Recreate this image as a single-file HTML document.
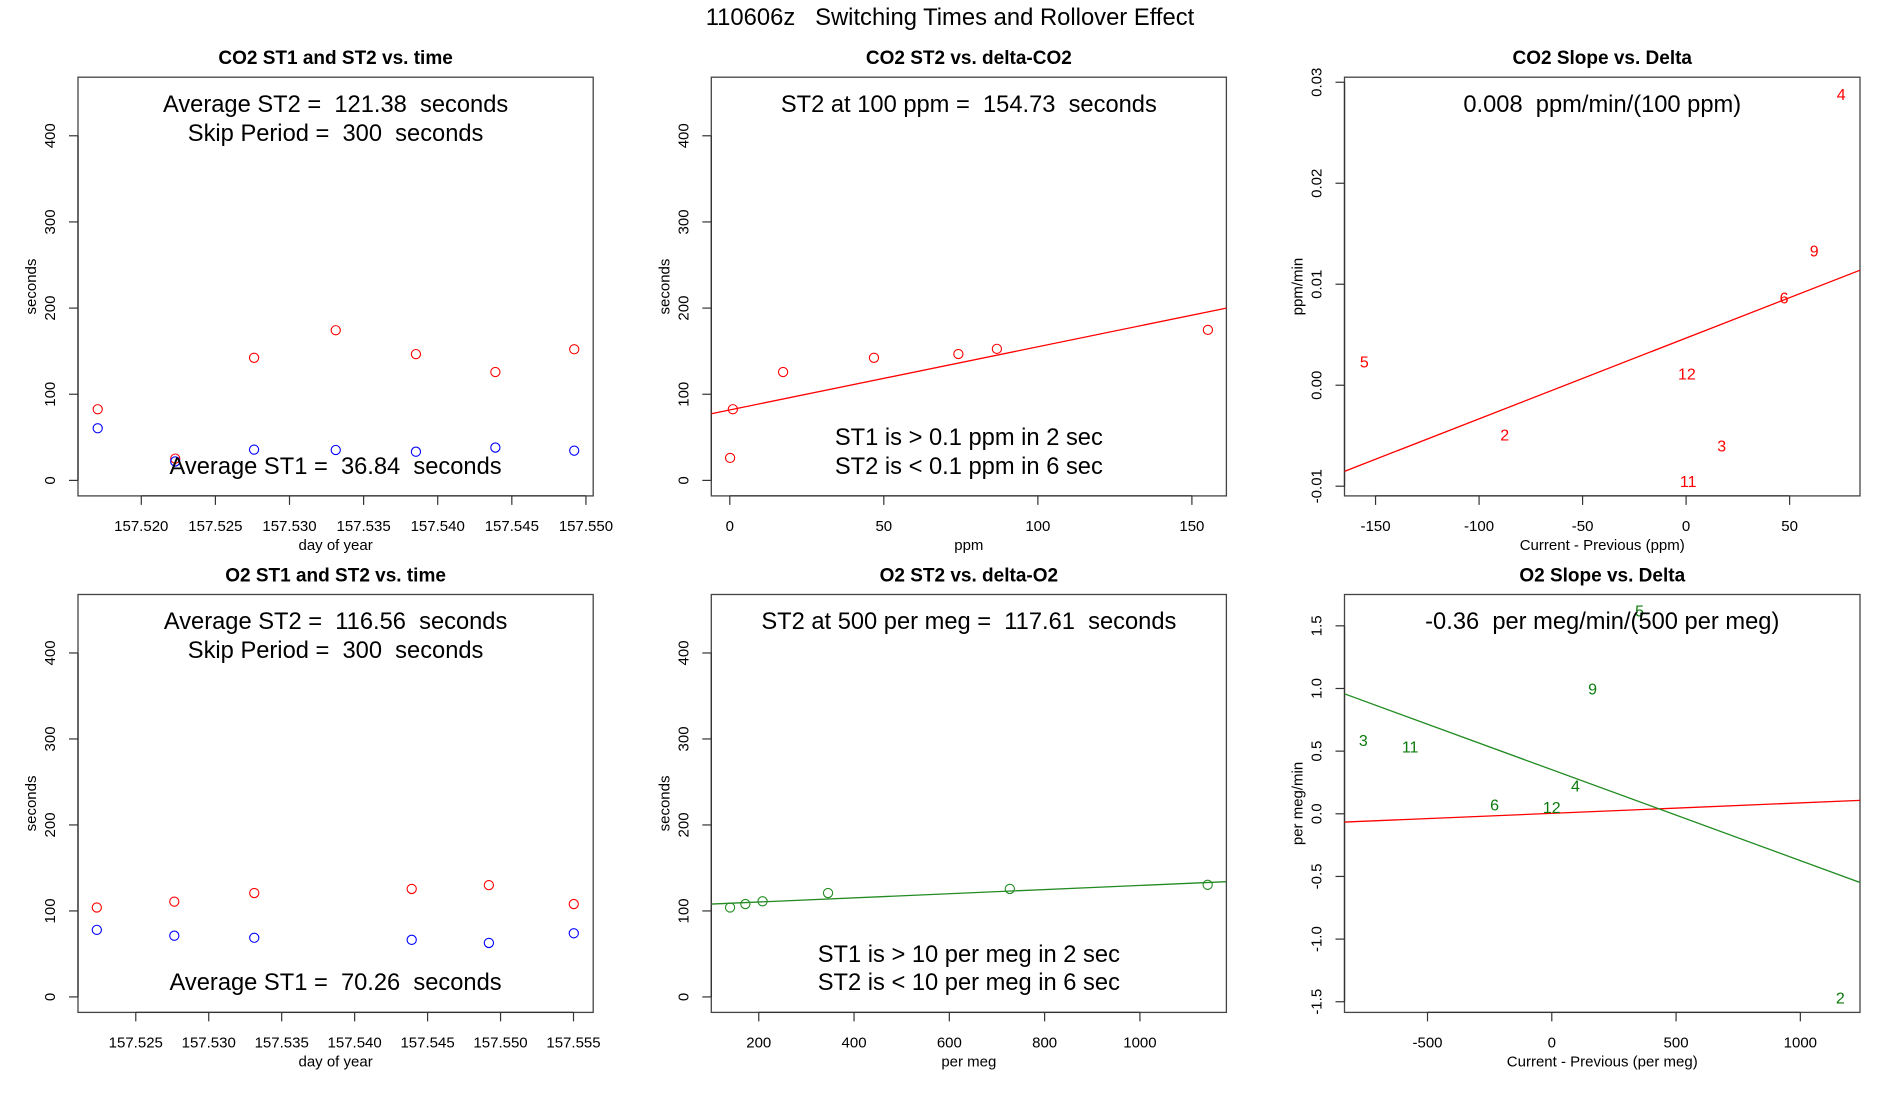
<!DOCTYPE html>
<html><head><meta charset="utf-8"><title>110606z Switching Times and Rollover Effect</title>
<style>
html,body{margin:0;padding:0;background:#fff;}
svg{display:block;font-family:"Liberation Sans",Arial,sans-serif;}
</style></head>
<body>
<svg id="chart" width="1900" height="1100" viewBox="0 0 1900 1100" xmlns="http://www.w3.org/2000/svg">
<rect width="1900" height="1100" fill="#fff"/>
<text x="950" y="25" text-anchor="middle" font-size="23.8" xml:space="preserve" style="white-space:pre">110606z   Switching Times and Rollover Effect</text>
</svg>
<script>
// ---- Panel 1: CO2 ST1 and ST2 vs time ----
const co2Time = [157.51706,157.52229,157.52761,157.53312,157.53853,157.54389,157.54921];
const co2ST2 = [82.6,25.3,142.3,174.3,146.6,125.8,152.2];
const co2ST1 = [60.5,22,35.7,35.3,33.3,38.1,34.5];
const co2TimeTicks = [157.520,157.525,157.530,157.535,157.540,157.545,157.550];
const co2TimeTickLabels = ["157.520","157.525","157.530","157.535","157.540","157.545","157.550"];
const secTicks = [0,100,200,300,400];
const secTickLabels = ["0","100","200","300","400"];
// ---- Panel 2: CO2 ST2 vs delta ----
const co2Delta = [1.0,0.1,17.3,46.8,74.2,86.7,155.2];
const co2DeltaST2 = [82.6,26.1,125.8,142.3,146.7,152.7,174.7];
const co2FitIntercept = 81.8;
const co2FitSlope = 0.733;
const ppmTicks = [0,50,100,150];
const ppmTickLabels = ["0","50","100","150"];
// ---- Panel 3: CO2 slope vs delta ----
const co2SlopeLabels = ["4","9","6","5","12","2","3","11"];
const co2SlopeX = [74.9,61.9,47.3,-155.4,0.4,-87.6,17.2,1.0];
const co2SlopeY = [0.0288,0.01328,0.00863,0.00232,0.00113,-0.00491,-0.00604,-0.00952];
const co2SlopeFitIntercept = 0.00467;
const co2SlopeFitSlope = 0.00008;
const co2SlopeXTicks = [-150,-100,-50,0,50];
const co2SlopeXTickLabels = ["-150","-100","-50","0","50"];
const co2SlopeYTicks = [-0.01,0,0.01,0.02,0.03];
const co2SlopeYTickLabels = ["-0.01","0.00","0.01","0.02","0.03"];
// ---- Panel 4: O2 ST1 and ST2 vs time ----
const o2Time = [157.52233,157.52764,157.53312,157.54391,157.54920,157.55502];
const o2ST2 = [104,110.8,120.8,125.6,130,108];
const o2ST1 = [78,71.2,68.8,66.4,62.8,74];
const o2TimeTicks = [157.525,157.530,157.535,157.540,157.545,157.550,157.555];
const o2TimeTickLabels = ["157.525","157.530","157.535","157.540","157.545","157.550","157.555"];
// ---- Panel 5: O2 ST2 vs delta ----
const o2Delta = [139.8,171.9,208,345.4,726.9,1142.2];
const o2DeltaST2 = [104,108,111.2,120.8,125.6,130.4];
const o2FitIntercept = 105.59;
const o2FitSlope = 0.02405;
const permegTicks = [200,400,600,800,1000];
const permegTickLabels = ["200","400","600","800","1000"];
// ---- Panel 6: O2 slope vs delta ----
const o2SlopeLabels = ["5","9","3","11","4","6","12","2"];
const o2SlopeX = [353,164,-758,-570,95,-230,0,1161];
const o2SlopeY = [1.618,0.994,0.586,0.531,0.220,0.072,0.052,-1.470];
const o2SlopeFitIntercept = 0.352;
const o2SlopeFitSlope = -0.000726;
const o2RefFitIntercept = 0.0036;
const o2RefFitSlope = 0.0000834;
const o2SlopeXTicks = [-500,0,500,1000];
const o2SlopeXTickLabels = ["-500","0","500","1000"];
const o2SlopeYTicks = [-1.5,-1.0,-0.5,0,0.5,1.0,1.5];
const o2SlopeYTickLabels = ["-1.5","-1.0","-0.5","0.0","0.5","1.0","1.5"];

const NS = "http://www.w3.org/2000/svg";
const svg = document.getElementById("chart");
function mk(tag, attrs, parent, txt){
  const e = document.createElementNS(NS, tag);
  for (const k in attrs) e.setAttribute(k, attrs[k]);
  if (txt !== undefined) e.textContent = txt;
  (parent || svg).appendChild(e);
  return e;
}
function makePanel(cfg){
  const g = mk("g", {});
  
  
  const sx = v => cfg.x0 + (v - cfg.xlim[0]) / (cfg.xlim[1] - cfg.xlim[0]) * (cfg.x1 - cfg.x0);
  const sy = v => cfg.y1 - (v - cfg.ylim[0]) / (cfg.ylim[1] - cfg.ylim[0]) * (cfg.y1 - cfg.y0);
  const t = mk("text", {x:(cfg.x0+cfg.x1)/2, y:cfg.y0-13, "text-anchor":"middle", "font-size":"19", "font-weight":"bold"}, g, cfg.title);
  
  
  const box = mk("rect", {x:cfg.x0, y:cfg.y0, width:cfg.x1-cfg.x0, height:cfg.y1-cfg.y0, fill:"none", stroke:"#444", "stroke-width":"1.3"}, g);
  
  
  const xa = mk("g", {}, g);
  
  
  const xt = cfg.xticks;
  mk("line", {x1:sx(xt[0]), x2:sx(xt[xt.length-1]), y1:cfg.y1, y2:cfg.y1, stroke:"#333", "stroke-width":"1.3"}, xa);
  xt.forEach((v,i) => {
    mk("line", {x1:sx(v), x2:sx(v), y1:cfg.y1, y2:cfg.y1+9, stroke:"#333", "stroke-width":"1.2"}, xa);
    const l = mk("text", {x:sx(v), y:cfg.y1+35, "text-anchor":"middle", "font-size":"15"}, xa, cfg.xlabels[i]);
    
    
  });
  const xl = mk("text", {x:(cfg.x0+cfg.x1)/2, y:cfg.y1+54, "text-anchor":"middle", "font-size":"15"}, g, cfg.xtitle);
  
  
  const ya = mk("g", {}, g);
  
  
  const yt = cfg.yticks;
  mk("line", {x1:cfg.x0, x2:cfg.x0, y1:sy(yt[0]), y2:sy(yt[yt.length-1]), stroke:"#333", "stroke-width":"1.3"}, ya);
  yt.forEach((v,i) => {
    mk("line", {x1:cfg.x0-9, x2:cfg.x0, y1:sy(v), y2:sy(v), stroke:"#333", "stroke-width":"1.2"}, ya);
    const lx = cfg.x0 - 23;
    const l = mk("text", {x:lx, y:sy(v), "text-anchor":"middle", "font-size":"15", transform:`rotate(-90 ${lx} ${sy(v)})`}, ya, cfg.ylabels[i]);
    
    
  });
  const yx = cfg.x0 - 42, ymid = (cfg.y0+cfg.y1)/2;
  const yl = mk("text", {x:yx, y:ymid, "text-anchor":"middle", "font-size":"15", transform:`rotate(-90 ${yx} ${ymid})`}, g, cfg.ytitle);
  
  
  const cid = "clip-" + cfg.name;
  const cp = mk("clipPath", {id:cid}, g);
  mk("rect", {x:cfg.x0, y:cfg.y0, width:cfg.x1-cfg.x0, height:cfg.y1-cfg.y0}, cp);
  const plot = mk("g", {"clip-path":`url(#${cid})`}, g);
  
  
  (cfg.notes||[]).forEach(n => {
    const a = mk("text", {x:(cfg.x0+cfg.x1)/2, y:n[0], "text-anchor":"middle", "font-size":"23.7", "xml:space":"preserve", style:"white-space:pre"}, g, n[1]);
    
    
  });
  return {plot, sx, sy, cfg};
}
function fitLine(p, a, b, color, name){
  const c = p.cfg;
  const ln = mk("line", {x1:p.sx(c.xlim[0]), y1:p.sy(a + b*c.xlim[0]), x2:p.sx(c.xlim[1]), y2:p.sy(a + b*c.xlim[1]), stroke:color, "stroke-width":"1.3"}, p.plot);
  
  
}
function points(p, xs, ys, color, name){
  xs.forEach((x,i) => {
    const c = mk("circle", {cx:p.sx(x), cy:p.sy(ys[i]), r:"4.6", fill:"none", stroke:color, "stroke-width":"1.1"}, p.plot);
    
    
  });
}
function labels(p, xs, ys, labs, color, name){
  xs.forEach((x,i) => {
    const t = mk("text", {x:p.sx(x), y:p.sy(ys[i])+5.5, "text-anchor":"middle", "font-size":"16", fill:color}, p.plot, labs[i]);
    
    
  });
}
const X = [[78,593.2],[711.3,1226.4],[1344.5,1860]];
const Y = [[77.2,495.9],[594.5,1012.4]];
const secLim = [-18,468];

const p1 = makePanel({name:"co2-time-panel", title:"CO2 ST1 and ST2 vs. time", x0:X[0][0], x1:X[0][1], y0:Y[0][0], y1:Y[0][1],
  xlim:[157.51573,157.55049], ylim:secLim, xticks:co2TimeTicks, xlabels:co2TimeTickLabels, yticks:secTicks, ylabels:secTickLabels,
  xtitle:"day of year", ytitle:"seconds", notes:[[112,"Average ST2 =  121.38  seconds"],[141,"Skip Period =  300  seconds"],[474,"Average ST1 =  36.84  seconds"]]});
points(p1, co2Time, co2ST2, "#ff0000", "st2-point");
points(p1, co2Time, co2ST1, "#0000ff", "st1-point");

const p2 = makePanel({name:"co2-delta-panel", title:"CO2 ST2 vs. delta-CO2", x0:X[1][0], x1:X[1][1], y0:Y[0][0], y1:Y[0][1],
  xlim:[-6.0,161.2], ylim:secLim, xticks:ppmTicks, xlabels:ppmTickLabels, yticks:secTicks, ylabels:secTickLabels,
  xtitle:"ppm", ytitle:"seconds", notes:[[112,"ST2 at 100 ppm =  154.73  seconds"],[445,"ST1 is > 0.1 ppm in 2 sec"],[474,"ST2 is < 0.1 ppm in 6 sec"]]});
fitLine(p2, co2FitIntercept, co2FitSlope, "#ff0000", "fit-line");
points(p2, co2Delta, co2DeltaST2, "#ff0000", "st2-point");

const p3 = makePanel({name:"co2-slope-panel", title:"CO2 Slope vs. Delta", x0:X[2][0], x1:X[2][1], y0:Y[0][0], y1:Y[0][1],
  xlim:[-165,84], ylim:[-0.01096,0.0305], xticks:co2SlopeXTicks, xlabels:co2SlopeXTickLabels, yticks:co2SlopeYTicks, ylabels:co2SlopeYTickLabels,
  xtitle:"Current - Previous (ppm)", ytitle:"ppm/min", notes:[[112,"0.008  ppm/min/(100 ppm)"]]});
fitLine(p3, co2SlopeFitIntercept, co2SlopeFitSlope, "#ff0000", "fit-line");
labels(p3, co2SlopeX, co2SlopeY, co2SlopeLabels, "#ff0000", "point-label");

const p4 = makePanel({name:"o2-time-panel", title:"O2 ST1 and ST2 vs. time", x0:X[0][0], x1:X[0][1], y0:Y[1][0], y1:Y[1][1],
  xlim:[157.52104,157.55635], ylim:secLim, xticks:o2TimeTicks, xlabels:o2TimeTickLabels, yticks:secTicks, ylabels:secTickLabels,
  xtitle:"day of year", ytitle:"seconds", notes:[[629,"Average ST2 =  116.56  seconds"],[658,"Skip Period =  300  seconds"],[990,"Average ST1 =  70.26  seconds"]]});
points(p4, o2Time, o2ST2, "#ff0000", "st2-point");
points(p4, o2Time, o2ST1, "#0000ff", "st1-point");

const p5 = makePanel({name:"o2-delta-panel", title:"O2 ST2 vs. delta-O2", x0:X[1][0], x1:X[1][1], y0:Y[1][0], y1:Y[1][1],
  xlim:[100.4,1181.5], ylim:secLim, xticks:permegTicks, xlabels:permegTickLabels, yticks:secTicks, ylabels:secTickLabels,
  xtitle:"per meg", ytitle:"seconds", notes:[[629,"ST2 at 500 per meg =  117.61  seconds"],[962,"ST1 is > 10 per meg in 2 sec"],[990,"ST2 is < 10 per meg in 6 sec"]]});
fitLine(p5, o2FitIntercept, o2FitSlope, "#228b22", "fit-line");
points(p5, o2Delta, o2DeltaST2, "#228b22", "st2-point");

const p6 = makePanel({name:"o2-slope-panel", title:"O2 Slope vs. Delta", x0:X[2][0], x1:X[2][1], y0:Y[1][0], y1:Y[1][1],
  xlim:[-834,1240], ylim:[-1.585,1.75], xticks:o2SlopeXTicks, xlabels:o2SlopeXTickLabels, yticks:o2SlopeYTicks, ylabels:o2SlopeYTickLabels,
  xtitle:"Current - Previous (per meg)", ytitle:"per meg/min", notes:[[629,"-0.36  per meg/min/(500 per meg)"]]});
fitLine(p6, o2RefFitIntercept, o2RefFitSlope, "#ff0000", "reference-line");
fitLine(p6, o2SlopeFitIntercept, o2SlopeFitSlope, "#228b22", "fit-line");
labels(p6, o2SlopeX, o2SlopeY, o2SlopeLabels, "#0a7a0a", "point-label");
</script>
</body></html>
